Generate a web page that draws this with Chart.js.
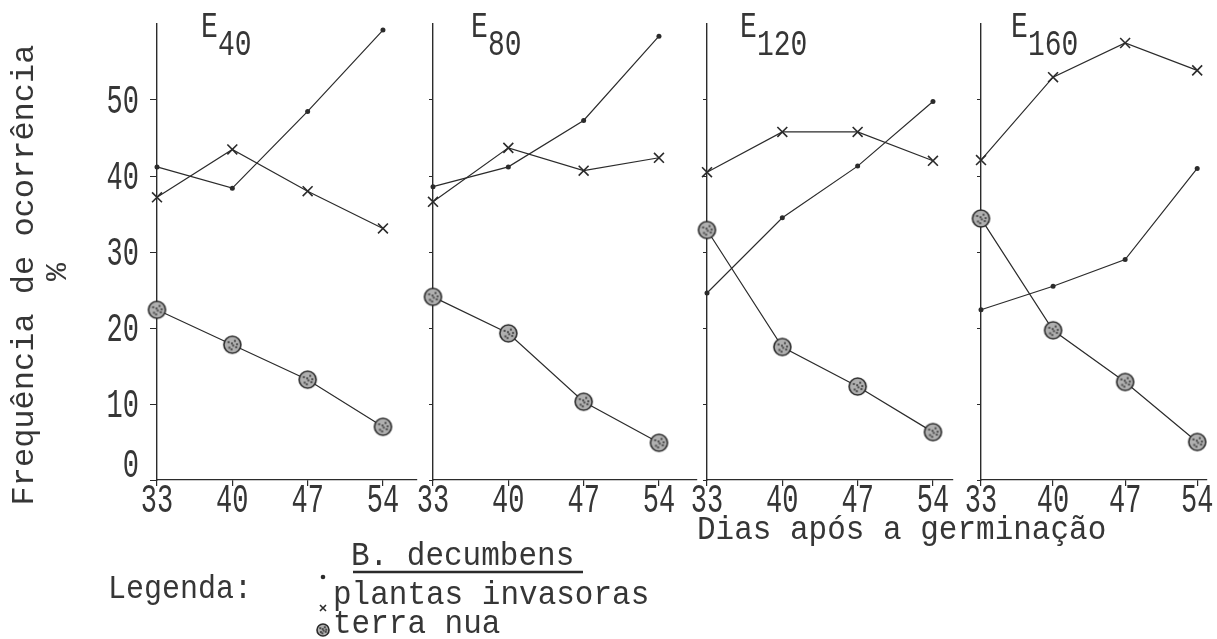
<!DOCTYPE html>
<html>
<head>
<meta charset="utf-8">
<script src="https://cdn.jsdelivr.net/npm/chart.js@4.4.1/dist/chart.umd.min.js"></script>
<style>
  html, body { margin: 0; padding: 0; background: #fff; }
  #fig { position: relative; width: 1217px; height: 639px; }
  #fig canvas { position: absolute; left: 0; top: 0; }
</style>
</head>
<body>
<div id="fig">
  <canvas id="p0" width="1217" height="639"></canvas>
  <canvas id="p1" width="1217" height="639"></canvas>
  <canvas id="p2" width="1217" height="639"></canvas>
  <canvas id="p3" width="1217" height="639"></canvas>
</div>
<script>
// dados (frequência de ocorrência, %)
const dias = [33, 40, 47, 54];
const tratamentos = ["40", "80", "120", "160"];
const yTicks = [0, 10, 20, 30, 40, 50];

const bDecumbens = [
  [41.2, 38.4, 48.5, 59.2],
  [38.6, 41.2, 47.3, 58.4],
  [24.6, 34.5, 41.3, 49.8],
  [22.4, 25.5, 29.0, 41.0]
];
const plantasInvasoras = [
  [37.2, 43.5, 38.0, 33.1],
  [36.6, 43.7, 40.7, 42.4],
  [40.5, 45.8, 45.8, 42.0],
  [42.1, 53.0, 57.5, 53.9]
];
const terraNua = [
  [22.4, 17.8, 13.2, 7.0],
  [24.1, 19.3, 10.3, 4.9],
  [32.9, 17.5, 12.3, 6.3],
  [34.4, 19.7, 12.9, 5.0]
];

// geometria dos painéis
const eixoX = [157, 433, 707, 981];
const fimX = [417, 697, 953, 1217];
const pxDia = 10.76;
const eX = [201, 471, 740, 1011];
const subX = [218, 488, 757, 1028];

const tinta = "#2b2b2b";
const letra = "#363636";
const fonte = '"Liberation Mono", "DejaVu Sans Mono", monospace';

function texto(ctx, str, x, y, o) {
  ctx.save();
  ctx.translate(x, y);
  if (o.rot) ctx.rotate(o.rot);
  ctx.scale(o.sx || 1, o.sy || 1);
  ctx.font = o.size + "px " + fonte;
  ctx.fillStyle = o.cor || letra;
  ctx.textAlign = o.align || "left";
  ctx.textBaseline = o.base || "alphabetic";
  ctx.fillText(str, 0, 0);
  ctx.restore();
}

// marcador "terra nua": círculo pontilhado
function marcaTerra(r) {
  const c = document.createElement("canvas");
  const s = Math.ceil(2 * r + 4);
  c.width = c.height = s;
  const g = c.getContext("2d");
  const m = s / 2;
  g.beginPath();
  g.arc(m, m, r, 0, 2 * Math.PI);
  g.fillStyle = "#b0b0b0";
  g.fill();
  g.lineWidth = 1.6;
  g.strokeStyle = tinta;
  g.stroke();
  g.fillStyle = "#4a4a4a";
  [[-0.45, -0.3], [0.3, -0.45], [0.1, 0.1], [-0.35, 0.35], [0.45, 0.3], [-0.05, -0.15], [-0.1, 0.55], [0.55, -0.05]]
    .forEach(([a, b]) => g.fillRect(m + a * r - 1, m + b * r - 1, 2, 2));
  return c;
}
const imgTerra = marcaTerra(8.5);
const imgTerraLeg = marcaTerra(6);

const textos = {
  id: "textos",
  afterDraw(chart, args, opts) {
    const ctx = chart.ctx;
    const i = opts.painel;
    const sx = chart.scales.x;

    // rótulos do eixo x
    sx.ticks.forEach(t => {
      texto(ctx, String(t.value), sx.getPixelForValue(t.value), 512,
        { size: 27, sy: 1.5, align: "center" });
    });

    // título do painel
    texto(ctx, "E", eX[i], 37, { size: 28, sy: 1.3 });
    texto(ctx, tratamentos[i], subX[i], 55, { size: 28, sy: 1.3 });

    if (i !== 0) return;

    const sy = chart.scales.y;
    sy.ticks.forEach(t => {
      const py = sy.getPixelForValue(t.value);
      texto(ctx, String(t.value), 139, Math.min(py + 13, 477),
        { size: 27, sy: 1.5, align: "right" });
    });

    texto(ctx, "Frequência de ocorrência", 33, 275,
      { size: 32, rot: -Math.PI / 2, align: "center" });
    texto(ctx, "%", 58, 272,
      { size: 30, rot: -Math.PI / 2, align: "center", base: "middle" });

    texto(ctx, "Dias após a germinação", 697, 539, { size: 31, sy: 1.1 });

    // legenda
    texto(ctx, "Legenda:", 108, 598, { size: 30, sy: 1.1 });
    texto(ctx, "B. decumbens", 351, 565, { size: 31, sy: 1.1 });
    ctx.save();
    ctx.strokeStyle = tinta;
    ctx.lineWidth = 2.5;
    ctx.beginPath();
    ctx.moveTo(353, 572);
    ctx.lineTo(583, 572);
    ctx.stroke();
    ctx.restore();
    texto(ctx, "plantas invasoras", 333, 604, { size: 31, sy: 1.1 });
    texto(ctx, "terra nua", 333, 633, { size: 31, sy: 1.1 });

    ctx.save();
    ctx.fillStyle = tinta;
    ctx.beginPath();
    ctx.arc(323, 577, 2.3, 0, 2 * Math.PI);
    ctx.fill();
    ctx.strokeStyle = tinta;
    ctx.lineWidth = 1.6;
    ctx.beginPath();
    ctx.moveTo(320, 605); ctx.lineTo(326, 611);
    ctx.moveTo(326, 605); ctx.lineTo(320, 611);
    ctx.stroke();
    ctx.drawImage(imgTerraLeg, 323 - imgTerraLeg.width / 2, 630 - imgTerraLeg.height / 2);
    ctx.restore();
  }
};

function serie(valores, i) {
  return dias.map((d, j) => ({ x: d, y: valores[i][j] }));
}

tratamentos.forEach((trat, i) => {
  const ctx = document.getElementById("p" + i).getContext("2d");
  new Chart(ctx, {
    type: "line",
    data: {
      datasets: [
        {
          label: "B. decumbens",
          data: serie(bDecumbens, i),
          borderColor: tinta,
          backgroundColor: tinta,
          borderWidth: 1.2,
          pointStyle: "circle",
          pointRadius: 2.5,
          pointBorderWidth: 0,
        },
        {
          label: "plantas invasoras",
          data: serie(plantasInvasoras, i),
          borderColor: tinta,
          backgroundColor: tinta,
          borderWidth: 1.2,
          pointStyle: "crossRot",
          pointRadius: 7,
          pointBorderWidth: 1.6,
        },
        {
          label: "terra nua",
          data: serie(terraNua, i),
          borderColor: tinta,
          backgroundColor: tinta,
          borderWidth: 1.2,
          pointStyle: imgTerra,
          pointRadius: 9,
        },
      ],
    },
    options: {
      responsive: false,
      animation: false,
      events: [],
      clip: false,
      devicePixelRatio: 1,
      layout: {
        padding: { left: eixoX[i], right: 1217 - fimX[i], top: 24, bottom: 639 - 480 },
      },
      plugins: {
        legend: { display: false },
        tooltip: { enabled: false },
        textos: { painel: i },
      },
      scales: {
        x: {
          type: "linear",
          min: 33,
          max: 33 + (fimX[i] - eixoX[i]) / pxDia,
          afterBuildTicks: s => { s.ticks = dias.map(v => ({ value: v })); },
          afterFit: s => { s.height = 0; },
          ticks: { display: false },
          grid: { drawOnChartArea: false, tickLength: 6, color: tinta, lineWidth: 1.2 },
          border: { color: tinta, width: 1.3 },
        },
        y: {
          type: "linear",
          min: 0,
          max: 60,
          afterBuildTicks: s => { s.ticks = yTicks.map(v => ({ value: v })); },
          afterFit: s => { s.width = 0; },
          ticks: { display: false },
          grid: { drawOnChartArea: false, tickLength: i === 0 ? 7 : 4, color: tinta, lineWidth: 1 },
          border: { color: tinta, width: 1.4 },
        },
      },
    },
    plugins: [textos],
  });
});
</script>
</body>
</html>
